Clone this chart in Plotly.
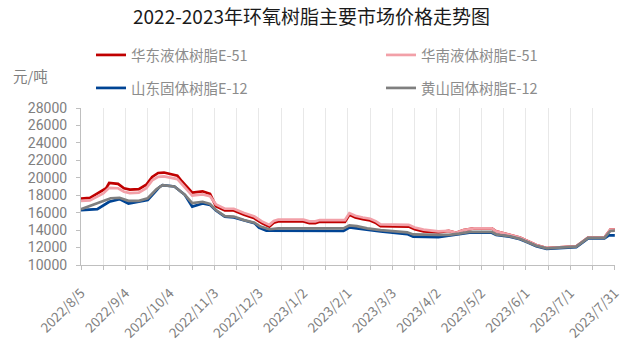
import plotly.graph_objects as go

title_text = "2022-2023年环氧树脂主要市场价格走势图"
unit_text = "元/吨"

red_name = "华东液体树脂E-51"
red_dates = ["2022-08-05", "2022-08-11", "2022-08-15", "2022-08-20", "2022-08-22", "2022-08-24",
             "2022-08-30", "2022-09-03", "2022-09-07", "2022-09-13", "2022-09-18", "2022-09-22",
             "2022-09-26", "2022-09-30", "2022-10-09", "2022-10-12", "2022-10-19", "2022-10-26",
             "2022-10-31", "2022-11-04", "2022-11-10", "2022-11-16", "2022-11-23", "2022-11-30",
             "2022-12-05", "2022-12-10", "2022-12-13", "2022-12-16", "2023-01-02", "2023-01-06",
             "2023-01-10", "2023-01-13", "2023-01-30", "2023-02-02", "2023-02-06", "2023-02-11",
             "2023-02-16", "2023-02-20", "2023-02-23", "2023-03-14", "2023-03-18", "2023-03-24",
             "2023-04-03", "2023-04-10", "2023-04-15", "2023-04-20", "2023-04-27", "2023-05-09",
             "2023-05-12", "2023-05-21", "2023-05-28", "2023-06-01", "2023-06-08", "2023-06-15",
             "2023-06-26", "2023-07-05", "2023-07-13", "2023-07-24", "2023-07-26", "2023-07-28",
             "2023-07-31"]
red_vals = [17600, 17700, 18100, 18600, 18800, 19400,
            19300, 18800, 18650, 18700, 19200, 20100,
            20550, 20600, 20250, 19600, 18300, 18450,
            18150, 16750, 16250, 16250, 15750, 15350,
            14800, 14400, 14850, 15000, 15000, 14800,
            14800, 14950, 14950, 15750, 15450, 15250,
            15100, 14800, 14450, 14400, 14100, 13850,
            13750, 13900, 13700, 14000, 14200, 14200,
            13850, 13450, 13150, 12850, 12300, 11950,
            12100, 12150, 13150, 13150, 13600, 14050,
            14050]

pink_name = "华南液体树脂E-51"
pink_dates = ["2022-08-05", "2022-08-11", "2022-08-20", "2022-08-24", "2022-08-30", "2022-09-03",
              "2022-09-07", "2022-09-13", "2022-09-18", "2022-09-22", "2022-09-26", "2022-09-30",
              "2022-10-09", "2022-10-12", "2022-10-19", "2022-10-26", "2022-10-31", "2022-11-04",
              "2022-11-10", "2022-11-16", "2022-11-23", "2022-11-30", "2022-12-05", "2022-12-10",
              "2022-12-13", "2022-12-16", "2023-01-02", "2023-01-06", "2023-01-10", "2023-01-13",
              "2023-01-30", "2023-02-02", "2023-02-06", "2023-02-11", "2023-02-16", "2023-02-20",
              "2023-02-23", "2023-03-14", "2023-03-18", "2023-03-24", "2023-04-03", "2023-04-10",
              "2023-04-15", "2023-04-20", "2023-04-27", "2023-05-09", "2023-05-12", "2023-05-21",
              "2023-05-28", "2023-06-01", "2023-06-08", "2023-06-15", "2023-06-26", "2023-07-05",
              "2023-07-13", "2023-07-24", "2023-07-26", "2023-07-28", "2023-07-31"]
pink_vals = [17350, 17400, 18200, 18850, 18800, 18400,
             18250, 18300, 18800, 19700, 20100, 20150,
             19850, 19300, 17950, 18100, 17900, 16950,
             16450, 16450, 15950, 15550, 15000, 14600,
             15050, 15200, 15200, 15000, 15000, 15150,
             15150, 15950, 15650, 15450, 15300, 15000,
             14650, 14600, 14300, 14050, 13850, 13900,
             13700, 14000, 14200, 14200, 13850, 13450,
             13150, 12850, 12300, 11950, 12100, 12150,
             13150, 13150, 13600, 14050, 14050]

blue_name = "山东固体树脂E-12"
blue_dates = ["2022-08-05", "2022-08-16", "2022-08-24", "2022-08-31", "2022-09-06", "2022-09-13",
              "2022-09-19", "2022-09-24", "2022-09-27", "2022-09-29", "2022-10-07", "2022-10-14",
              "2022-10-19", "2022-10-26", "2022-10-31", "2022-11-04", "2022-11-10", "2022-11-16",
              "2022-11-23", "2022-11-30", "2022-12-03", "2022-12-08", "2023-01-29", "2023-02-02",
              "2023-02-07", "2023-02-23", "2023-03-13", "2023-03-17", "2023-04-03", "2023-04-11",
              "2023-04-24", "2023-05-09", "2023-05-12", "2023-05-21", "2023-05-28", "2023-06-02",
              "2023-06-08", "2023-06-15", "2023-06-26", "2023-07-05", "2023-07-13", "2023-07-24",
              "2023-07-27", "2023-07-31"]
blue_vals = [16300, 16400, 17250, 17550, 17050, 17300,
             17450, 18400, 18950, 19150, 19000, 18050,
             16700, 17050, 16900, 16250, 15550, 15450,
             15100, 14800, 14300, 13950, 13900, 14300,
             14200, 13850, 13550, 13250, 13200, 13400,
             13700, 13700, 13450, 13250, 12950, 12600,
             12150, 11850, 12000, 12050, 13050, 13050,
             13400, 13400]

gray_name = "黄山固体树脂E-12"
gray_dates = ["2022-08-05", "2022-08-14", "2022-08-21", "2022-08-25", "2022-08-31", "2022-09-06",
              "2022-09-13", "2022-09-19", "2022-09-25", "2022-09-29", "2022-10-07", "2022-10-14",
              "2022-10-19", "2022-10-26", "2022-10-31", "2022-11-04", "2022-11-10", "2022-11-16",
              "2022-11-23", "2022-11-30", "2022-12-04", "2022-12-10", "2022-12-16", "2023-01-29",
              "2023-02-02", "2023-02-07", "2023-02-14", "2023-02-23", "2023-03-13", "2023-03-17",
              "2023-04-03", "2023-04-10", "2023-04-17", "2023-04-24", "2023-05-09", "2023-05-12",
              "2023-05-21", "2023-05-28", "2023-06-02", "2023-06-08", "2023-06-15", "2023-06-26",
              "2023-07-05", "2023-07-13", "2023-07-24", "2023-07-28", "2023-07-31"]
gray_vals = [16400, 16950, 17350, 17650, 17700, 17350,
             17350, 17650, 18700, 19150, 19000, 18050,
             17100, 17250, 17000, 16300, 15600, 15550,
             15150, 14850, 14400, 14100, 14200, 14200,
             14550, 14450, 14200, 14000, 13750, 13500,
             13450, 13450, 13600, 13800, 13800, 13500,
             13300, 13000, 12650, 12200, 11900, 12050,
             12100, 13100, 13100, 13900, 13950]

x_range = ["2022-08-05", "2023-07-31 03:00"]
x_tick0 = "2022-08-05"
y_range = [10000, 28000]
y_step = 2000

W, H = 623, 351
L, R, T, B = 81, 8, 108, 86
DAY = 86400000
FONT = "Noto Sans CJK SC"
NUM_FONT = "Roboto, Noto Sans CJK SC"

fig = go.Figure()
series = [
    (red_name, red_dates, red_vals, "#C00000", "legend"),
    (pink_name, pink_dates, pink_vals, "#F2A0A8", "legend2"),
    (blue_name, blue_dates, blue_vals, "#004494", "legend3"),
    (gray_name, gray_dates, gray_vals, "#7F7F7F", "legend4"),
]
for name, xs, ys, col, lg in series:
    fig.add_trace(go.Scatter(x=xs, y=ys, mode="lines", name=name,
                             line=dict(color=col, width=2.7), legend=lg))

def leg(px_x, px_y):
    return dict(xref="container", yref="container", x=px_x / W, y=1 - px_y / H,
                xanchor="left", yanchor="middle", orientation="v",
                bgcolor="rgba(0,0,0,0)", borderwidth=0,
                font=dict(family=FONT, size=14.5, color="#8C8C8C"),
                itemwidth=30)

fig.update_layout(
    width=W, height=H,
    margin=dict(l=L, r=R, t=T, b=B, autoexpand=False),
    paper_bgcolor="white", plot_bgcolor="white",
    font=dict(family=FONT, color="#7F7F7F"),
    title=dict(text=title_text, x=0.5, xanchor="center", y=1 - 17 / H, yanchor="middle",
               xref="container",
               font=dict(family=FONT, size=19, color="#1A1A1A")),
    showlegend=True,
    legend=leg(91, 55),
    legend2=leg(381, 55),
    legend3=leg(91, 88),
    legend4=leg(381, 88),
    xaxis=dict(type="date", range=x_range, tick0=x_tick0, dtick=30 * DAY,
               tickformat="%Y/%-m/%-d", tickangle=-45, ticklabelstandoff=10,
               ticklabeloverflow="allow",
               tickfont=dict(family=FONT, size=13.5, color="#808080"),
               showgrid=True, gridcolor="#E8E8E8", gridwidth=1,
               showline=True, linecolor="#BFBFBF", linewidth=1,
               ticks="outside", ticklen=4, tickcolor="#BFBFBF",
               minor=dict(dtick=15 * DAY, tick0=x_tick0, showgrid=True,
                          gridcolor="#E8E8E8", ticks="outside", ticklen=4,
                          tickcolor="#BFBFBF"),
               zeroline=False, fixedrange=True),
    yaxis=dict(range=y_range, dtick=y_step, tick0=y_range[0], tickformat="d",
               ticklabelstandoff=6,
               tickfont=dict(family=NUM_FONT, size=14, color="#808080"),
               showgrid=False, showline=True, linecolor="#BFBFBF", linewidth=1,
               ticks="outside", ticklen=4, tickcolor="#BFBFBF",
               zeroline=False, fixedrange=True),
    annotations=[dict(text=unit_text, xref="paper", yref="paper",
                      x=(30 - L) / (W - L - R), y=(H - B - 75) / (H - T - B),
                      xanchor="center", yanchor="middle", showarrow=False,
                      font=dict(family=FONT, size=14.5, color="#808080"))],
)

fig.write_html("out.html")
